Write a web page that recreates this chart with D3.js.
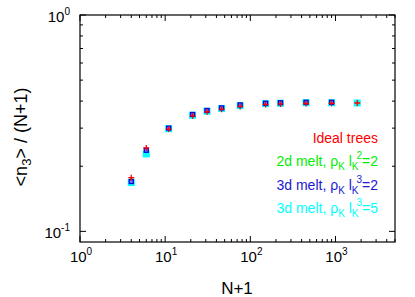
<!DOCTYPE html>
<html><head><meta charset="utf-8">
<script src="https://cdn.jsdelivr.net/npm/d3@7"></script>
<style>body{margin:0;background:#fff}svg{display:block}text{font-family:"Liberation Sans",Arial,Helvetica,sans-serif}</style>
</head><body>
<svg id="c" width="415" height="297"></svg>
<script>
const nPlus1 = [4, 6, 11, 21, 31, 46, 76, 151, 226, 451, 901, 1801];
const idealTrees = [0.177, 0.243, 0.297, 0.342, 0.357, 0.367, 0.378, 0.386, 0.388, 0.390, 0.391, 0.392];
const melt2d = [0.172, 0.238, 0.299, 0.345, 0.360, 0.370, 0.381, 0.389, 0.391, 0.393, 0.393, 0.392];
const melt3d2 = [0.170, 0.237, 0.300, 0.347, 0.362, 0.372, 0.384, 0.391, 0.393, 0.395, 0.395, null];
const melt3d5 = [0.168, 0.228, 0.298, 0.344, 0.359, 0.370, 0.381, 0.389, 0.391, 0.393, 0.393, 0.392];
const xTickExp = [0, 1, 2, 3];
const yTickExp = [-1, 0];

const svg = d3.select("#c");
const L = 80, R = 395, T = 15, B = 242;
const x = d3.scaleLog().domain([1, 5000]).range([L, R]);
const y = d3.scaleLog().domain([0.0893, 1]).range([B, T]);

function pts(vals) { return nPlus1.map((n, i) => ({n, v: vals[i]})).filter(d => d.v != null); }
const g = svg.append("g");
g.selectAll(".gr").data(pts(melt2d)).join("rect")
  .attr("x", d => x(d.n) - 2).attr("y", d => y(d.v) - 2).attr("width", 4).attr("height", 4)
  .attr("fill", "#00ff00");
g.selectAll(".cy").data(pts(melt3d5)).join("rect")
  .attr("x", d => x(d.n) - 3.5).attr("y", d => y(d.v) - 3.5).attr("width", 7).attr("height", 7)
  .attr("fill", "#00ffff");
g.selectAll(".bl").data(pts(melt3d2)).join("rect")
  .attr("x", d => x(d.n) - 2).attr("y", d => y(d.v) - 2).attr("width", 4).attr("height", 4)
  .attr("fill", "#6a8cff").attr("stroke", "#0000e0").attr("stroke-width", 1.3);
g.selectAll(".rd").data(pts(idealTrees)).join("path")
  .attr("d", d => { const cx = x(d.n), cy = y(d.v); return `M${cx-3},${cy}H${cx+3}M${cx},${cy-3}V${cy+3}`; })
  .attr("stroke", "#ff0000").attr("stroke-width", 1.3).attr("fill", "none");

svg.append("rect").attr("x", L).attr("y", T).attr("width", R - L).attr("height", B - T)
  .attr("fill", "none").attr("stroke", "#000").attr("stroke-width", 1.2);

const xMinor = [];
for (let e = 0; e <= 3; e++) for (let k = 2; k <= 9; k++) { const v = k * Math.pow(10, e); if (v <= 5000) xMinor.push(v); }
const tk = svg.append("g").attr("stroke", "#000").attr("stroke-width", 1);
xTickExp.forEach(e => {
  const px = x(Math.pow(10, e));
  tk.append("line").attr("x1", px).attr("x2", px).attr("y1", B).attr("y2", B - 6);
  tk.append("line").attr("x1", px).attr("x2", px).attr("y1", T).attr("y2", T + 6);
});
xMinor.forEach(v => {
  const px = x(v);
  tk.append("line").attr("x1", px).attr("x2", px).attr("y1", B).attr("y2", B - 3);
  tk.append("line").attr("x1", px).attr("x2", px).attr("y1", T).attr("y2", T + 3);
});
const yMinor = [0.2, 0.3, 0.4, 0.5, 0.6, 0.7, 0.8, 0.9];
yTickExp.forEach(e => {
  const py = y(Math.pow(10, e));
  tk.append("line").attr("x1", L).attr("x2", L + 6).attr("y1", py).attr("y2", py);
  tk.append("line").attr("x1", R).attr("x2", R - 6).attr("y1", py).attr("y2", py);
});
yMinor.forEach(v => {
  const py = y(v);
  tk.append("line").attr("x1", L).attr("x2", L + 3).attr("y1", py).attr("y2", py);
  tk.append("line").attr("x1", R).attr("x2", R - 3).attr("y1", py).attr("y2", py);
});

function pow10(sel, e) {
  sel.append("tspan").text("10");
  sel.append("tspan").attr("dy", -7).attr("font-size", 10).text(e);
}
xTickExp.forEach(e => {
  const t = svg.append("text").attr("x", x(Math.pow(10, e)) + 1).attr("y", 262)
    .attr("text-anchor", "middle").attr("font-size", 15).attr("fill", "#000");
  pow10(t, e);
});
yTickExp.forEach(e => {
  const t = svg.append("text").attr("x", 70).attr("y", y(Math.pow(10, e)) + 7)
    .attr("text-anchor", "end").attr("font-size", 15).attr("fill", "#000");
  pow10(t, e);
});

svg.append("text").attr("x", 237).attr("y", 294).attr("text-anchor", "middle")
  .attr("font-size", 17).text("N+1");
const yl = svg.append("text").attr("transform", "translate(27,137) rotate(-90)")
  .attr("text-anchor", "middle").attr("font-size", 18);
yl.append("tspan").text("<n");
yl.append("tspan").attr("dy", 4).attr("font-size", 13).text("3");
yl.append("tspan").attr("dy", -4).text("> / (N+1)");

const legend = [
  {label: "Ideal trees", color: "#ff0000"},
  {label: "2d melt", color: "#00ee00", exp: "2"},
  {label: "3d melt", color: "#1a1ad0", exp: "3"},
  {label: "3d melt", color: "#00ffff", exp: "3"}
];
const vals = ["", "2", "2", "5"];
legend.forEach((d, i) => {
  const t = svg.append("text").attr("x", 378).attr("y", 143 + i * 23.3)
    .attr("text-anchor", "end").attr("font-size", 14).attr("fill", d.color);
  if (!d.exp) { t.text(d.label); return; }
  t.append("tspan").text(d.label + ", ρ");
  t.append("tspan").attr("dy", 4).attr("font-size", 10).text("K");
  t.append("tspan").attr("dy", -4).text(" l");
  t.append("tspan").attr("dy", 4).attr("font-size", 10).text("K");
  t.append("tspan").attr("dy", -11).attr("dx", -2).attr("font-size", 10).text(d.exp);
  t.append("tspan").attr("dy", 7).text("=" + vals[i]);
});
</script>
</body></html>
